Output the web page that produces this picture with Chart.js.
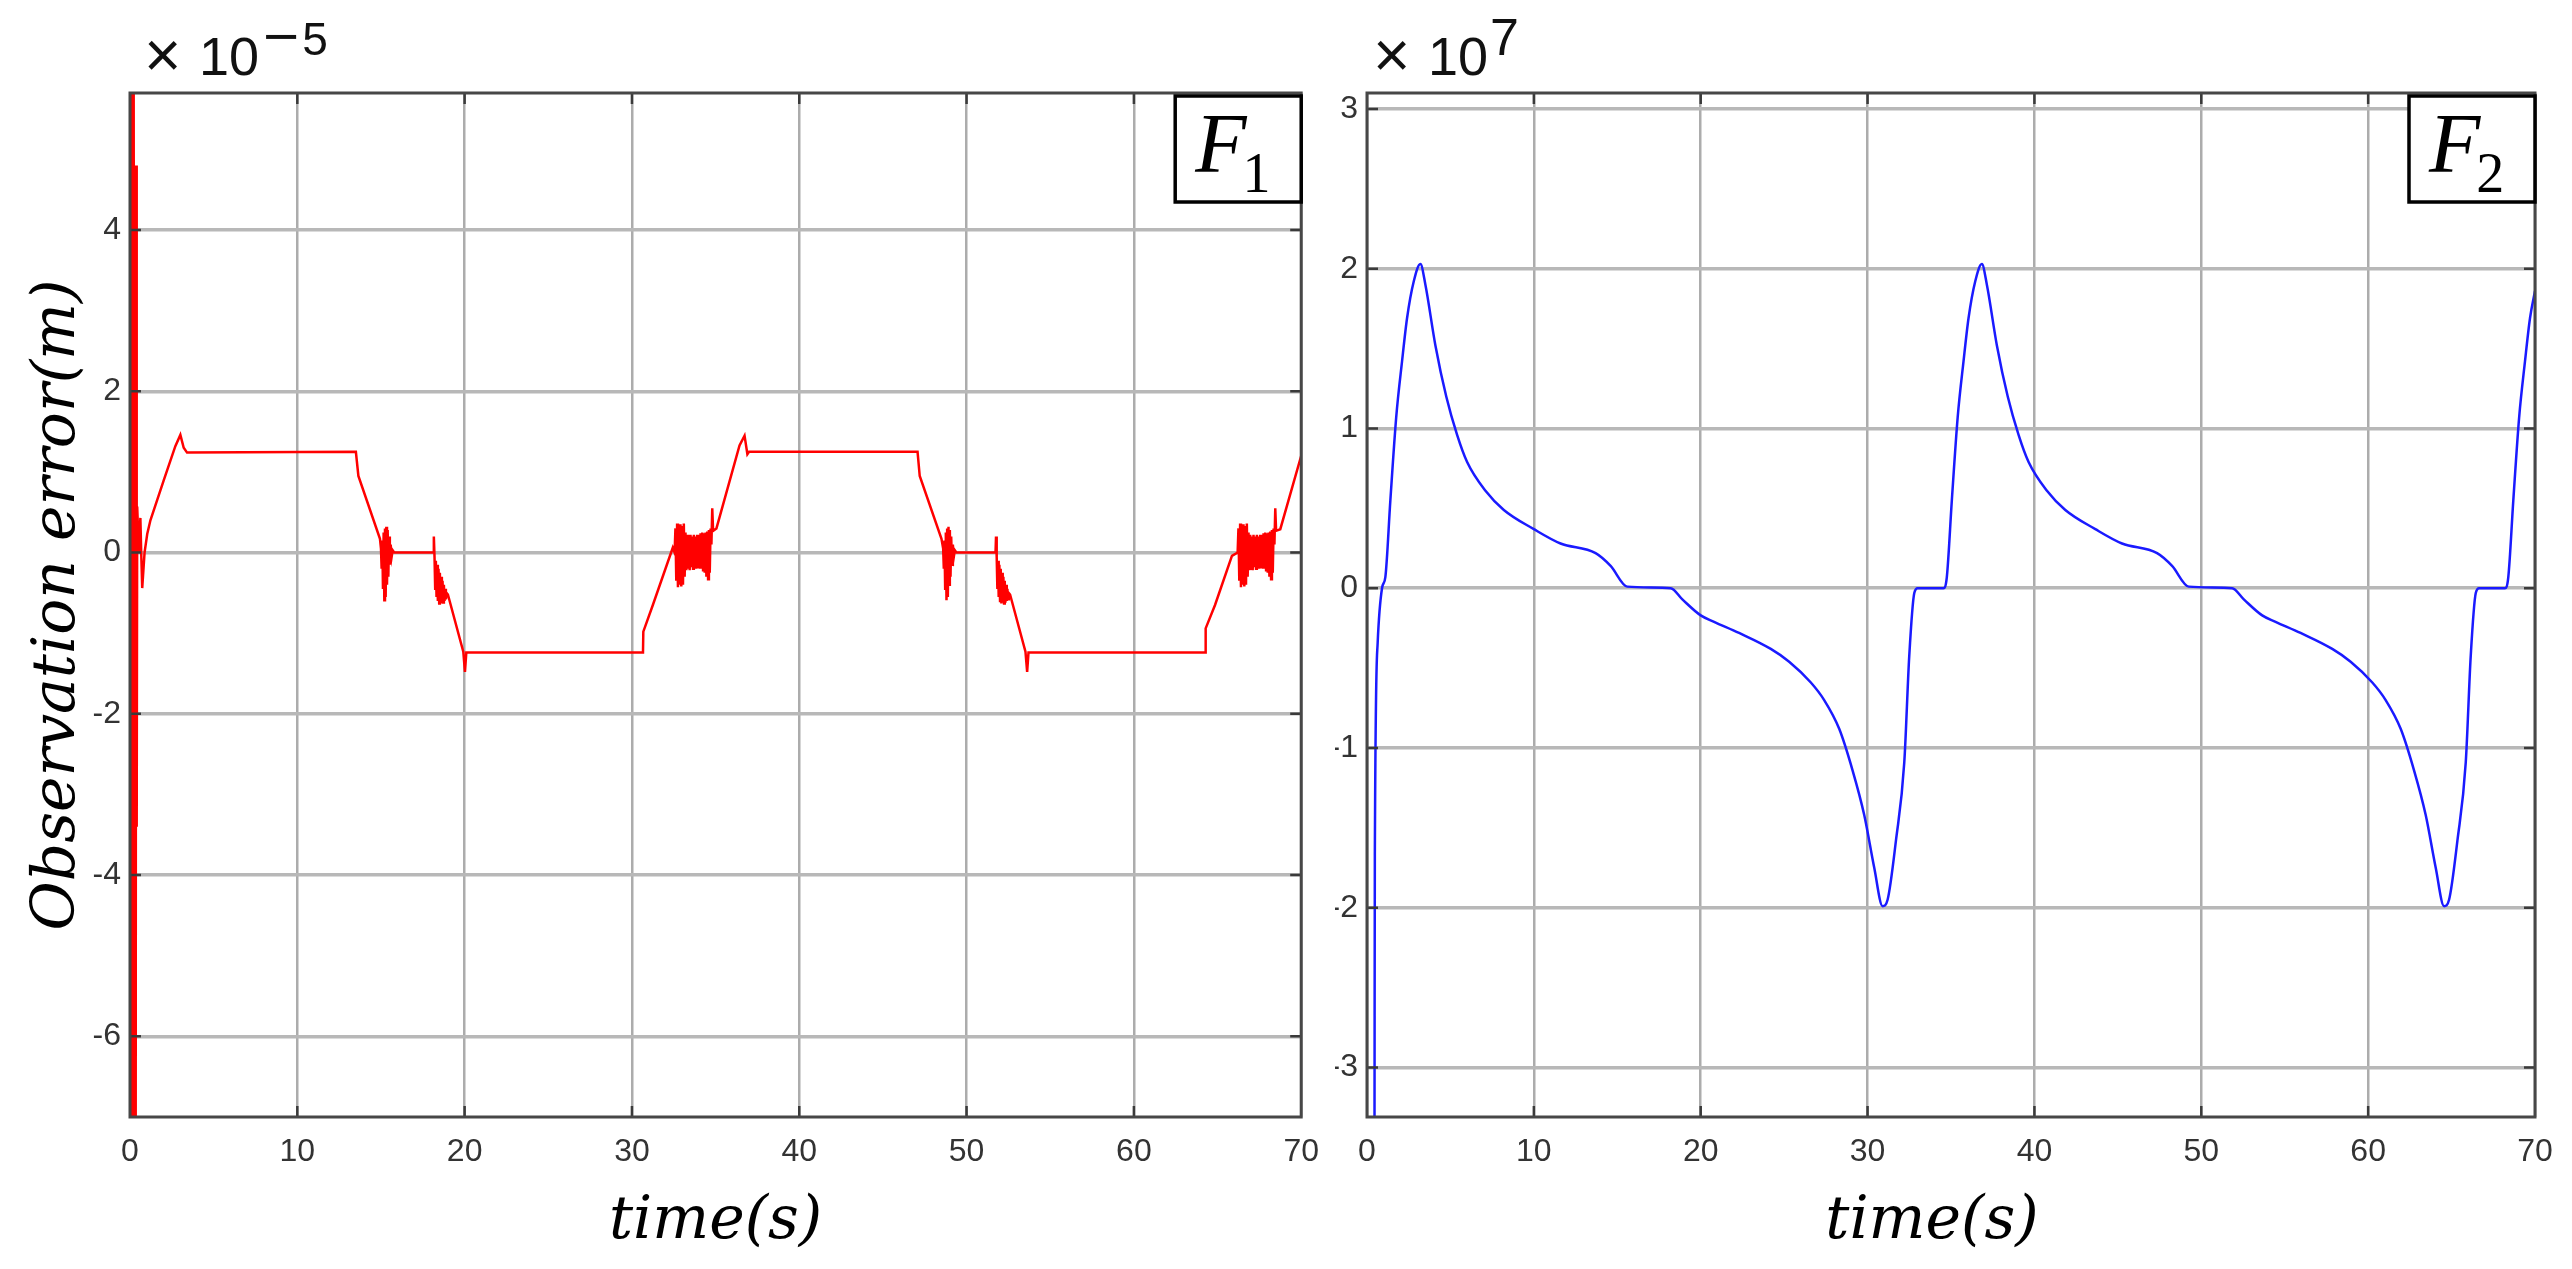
<!DOCTYPE html>
<html><head><meta charset="utf-8">
<script src="https://cdn.jsdelivr.net/npm/chart.js@4.4.1/dist/chart.umd.min.js"></script>
<style>
html,body{margin:0;padding:0;background:#fff;overflow:hidden;}
#wrap{position:relative;width:2572px;height:1269px;background:#fff;}
canvas{position:absolute;top:0;}
#c1{left:0}
#c2{left:1335px}
</style></head><body>
<div id="wrap"><canvas id="c1" width="1335" height="1269"></canvas><canvas id="c2" width="1237" height="1269"></canvas></div>
<script>
// ---- data ----
const xTicks = [0,10,20,30,40,50,60,70];
const f1Ticks = [-6,-4,-2,0,2,4];
const f2Ticks = [-3,-2,-1,0,1,2,3];
const f1Range = [-7, 5.7];     // x 10^-5
const f2Range = [-3.31, 3.1];  // x 10^7

// F1 observation error [time s, value x1e-5]
const f1Series = [
[0,0],[0.06,5.7],[0.1,-7],[0.14,5.7],[0.18,-7],[0.22,5.7],[0.26,-7],[0.3,4.8],[0.34,-7],[0.37,4.8],[0.4,-3.4],
[0.43,0.57],[0.53,0],[0.62,0.43],[0.67,0],[0.73,-0.44],[0.87,0],[1.03,0.23],[1.22,0.4],[2.02,0.9],[2.71,1.32],[3.01,1.46],[3.21,1.3],[3.41,1.24],
[13.5,1.25],[13.65,0.95],[14.94,0.17],
[15.0,0.05],[15.04,-0.2],[15.08,0.15],[15.12,-0.45],[15.16,0.25],[15.2,-0.59],[15.24,0.3],[15.28,-0.55],[15.32,0.32],[15.36,-0.4],[15.4,0.28],[15.44,-0.3],[15.48,0.2],[15.53,-0.15],[15.58,0.1],[15.64,-0.05],[15.7,0.03],[15.8,0],
[18.13,0],[18.16,0.2],[18.2,-0.05],[18.24,-0.45],[18.28,-0.1],[18.32,-0.55],[18.36,-0.15],[18.4,-0.6],[18.44,-0.2],[18.48,-0.63],[18.52,-0.25],[18.56,-0.62],[18.6,-0.3],[18.64,-0.63],[18.68,-0.35],[18.72,-0.62],[18.76,-0.4],[18.8,-0.6],[18.84,-0.45],[18.88,-0.58],[18.92,-0.5],[19.0,-0.52],
[19.92,-1.23],[20.02,-1.48],[20.1,-1.24],[30.66,-1.24],[30.68,-0.98],[31.25,-0.65],[32.44,0.06],[32.55,0],
[32.6,0.3],[32.65,-0.35],[32.7,0.36],[32.75,-0.43],[32.8,0.34],[32.85,-0.4],[32.9,0.35],[32.95,-0.42],[33.0,0.33],[33.05,-0.4],[33.1,0.36],[33.15,-0.3],[33.2,0.25],[33.25,-0.22],[33.3,0.22],[33.35,-0.2],[33.4,0.2],[33.45,-0.22],[33.5,0.22],[33.55,-0.18],[33.6,0.2],[33.65,-0.2],[33.7,0.22],[33.75,-0.18],[33.8,0.2],[33.85,-0.2],[33.9,0.22],[33.95,-0.18],[34.0,0.22],[34.05,-0.2],[34.1,0.24],[34.15,-0.2],[34.2,0.25],[34.25,-0.22],[34.3,0.24],[34.35,-0.25],[34.4,0.25],[34.45,-0.3],[34.5,0.26],[34.55,-0.33],[34.6,0.28],[34.65,-0.25],[34.7,0.3],[34.75,0.1],[34.8,0.55],[34.85,0.27],
[35.05,0.3],[36.43,1.33],[36.73,1.45],[36.9,1.22],[37.0,1.25],[47.07,1.25],[47.2,0.95],[48.5,0.17],
[48.6,0.05],[48.64,-0.2],[48.68,0.15],[48.72,-0.45],[48.76,0.25],[48.8,-0.59],[48.84,0.3],[48.88,-0.55],[48.92,0.32],[48.96,-0.4],[49.0,0.28],[49.04,-0.3],[49.08,0.2],[49.13,-0.15],[49.18,0.1],[49.24,-0.05],[49.3,0.03],[49.4,0],
[51.73,0],[51.76,0.2],[51.8,-0.05],[51.84,-0.45],[51.88,-0.1],[51.92,-0.55],[51.96,-0.15],[52.0,-0.6],[52.04,-0.2],[52.08,-0.63],[52.12,-0.25],[52.16,-0.62],[52.2,-0.3],[52.24,-0.63],[52.28,-0.35],[52.32,-0.62],[52.36,-0.4],[52.4,-0.6],[52.44,-0.45],[52.48,-0.58],[52.52,-0.5],[52.6,-0.52],
[53.52,-1.23],[53.62,-1.48],[53.7,-1.24],[64.27,-1.24],[64.29,-0.94],[64.85,-0.65],[65.86,-0.04],[66.2,0],
[66.25,0.3],[66.3,-0.35],[66.35,0.36],[66.4,-0.43],[66.45,0.34],[66.5,-0.4],[66.55,0.35],[66.6,-0.42],[66.65,0.33],[66.7,-0.4],[66.75,0.36],[66.8,-0.3],[66.85,0.25],[66.9,-0.22],[66.95,0.22],[67.0,-0.2],[67.05,0.2],[67.1,-0.22],[67.15,0.22],[67.2,-0.18],[67.25,0.2],[67.3,-0.2],[67.35,0.22],[67.4,-0.18],[67.45,0.2],[67.5,-0.2],[67.55,0.22],[67.6,-0.18],[67.65,0.22],[67.7,-0.2],[67.75,0.24],[67.8,-0.2],[67.85,0.25],[67.9,-0.22],[67.95,0.24],[68.0,-0.25],[68.05,0.25],[68.1,-0.3],[68.15,0.26],[68.2,-0.33],[68.25,0.28],[68.3,-0.25],[68.35,0.3],[68.4,0.1],[68.45,0.55],[68.5,0.27],
[68.75,0.29],[70,1.2]
];

// F2 observation error [time s, value x1e7]
const f2Series = [
[0.45,-3.31],[0.47,-1.67],[0.64,-0.34],[0.9,0],[1.1,0.07],[1.4,0.55],[1.75,1.07],[2.1,1.42],[2.4,1.69],[2.8,1.92],[3.2,2.03],
[3.5,1.9],[4.1,1.52],[4.75,1.2],[5.4,0.96],[6.0,0.79],[7.1,0.61],[8.2,0.49],[10,0.37],[11.6,0.28],[13.7,0.22],[14.6,0.14],[15.6,0.01],
[18.2,0],[18.9,-0.07],[20.0,-0.17],[20.8,-0.21],[22.3,-0.28],[24.2,-0.38],[25.3,-0.46],[26.6,-0.59],[27.4,-0.7],[28.3,-0.88],[29.1,-1.14],[29.8,-1.42],[30.4,-1.75],[30.9,-1.99],
[31.2,-1.95],[31.7,-1.58],[32.2,-1.09],[32.5,-0.42],[32.8,-0.03],[33.0,0],
[34.55,0],[34.75,0.07],[35.05,0.55],[35.4,1.07],[35.75,1.42],[36.05,1.69],[36.45,1.92],[36.85,2.03],
[37.15,1.9],[37.75,1.52],[38.4,1.2],[39.05,0.96],[39.65,0.79],[40.75,0.61],[41.85,0.49],[43.65,0.37],[45.25,0.28],[47.35,0.22],[48.25,0.14],[49.25,0.01],
[51.85,0],[52.55,-0.07],[53.65,-0.17],[54.45,-0.21],[55.95,-0.28],[57.85,-0.38],[58.95,-0.46],[60.25,-0.59],[61.05,-0.7],[61.95,-0.88],[62.75,-1.14],[63.45,-1.42],[64.05,-1.75],[64.55,-1.99],
[64.85,-1.95],[65.35,-1.58],[65.85,-1.09],[66.15,-0.42],[66.45,-0.03],[66.65,0],
[68.2,0],[68.4,0.07],[68.7,0.55],[69.05,1.07],[69.4,1.42],[69.7,1.69],[70,1.86]
];

// ---- rendering ----
const TICK_FONT = {family:'"Liberation Sans Narrow", "Liberation Sans", Arial, sans-serif', size:32};
const TITLE_FONT = {family:'"DejaVu Serif", serif', style:'italic', size:60};

function decor(o){
  return {
    id:'decor',
    afterDraw(chart){
      const {ctx, chartArea:a, scales} = chart;
      ctx.save();
      ctx.strokeStyle='#3a3a3a'; ctx.lineWidth=2.5;
      const tl=11;
      ctx.beginPath();
      scales.x.ticks.forEach(t=>{
        const px=scales.x.getPixelForValue(t.value);
        if(px<=a.left+2||px>=a.right-2) return;
        ctx.moveTo(px,a.top); ctx.lineTo(px,a.top+tl);
        ctx.moveTo(px,a.bottom); ctx.lineTo(px,a.bottom-tl);
      });
      scales.y.ticks.forEach(t=>{
        const py=scales.y.getPixelForValue(t.value);
        ctx.moveTo(a.left,py); ctx.lineTo(a.left+tl,py);
        ctx.moveTo(a.right,py); ctx.lineTo(a.right-tl,py);
      });
      ctx.stroke();
      ctx.strokeStyle='#474747'; ctx.lineWidth=3;
      ctx.strokeRect(a.left,a.top,a.right-a.left,a.bottom-a.top);
      // exponent label:  x 10^n
      ctx.fillStyle='#111'; ctx.textBaseline='alphabetic'; ctx.textAlign='left';
      const ex=a.left+o.expDx;
      ctx.font='64px "Liberation Sans", Arial, sans-serif';
      ctx.fillText('\u00d7', ex, 77);
      ctx.font='54px "Liberation Sans", Arial, sans-serif';
      ctx.fillText('10', ex+55, 75);
      let sx = ex+117;
      if (o.expNeg) {
        ctx.font='48px "DejaVu Sans", sans-serif';
        ctx.fillText('\u2212', sx, 52);
        sx += ctx.measureText('\u2212').width + 1;
      }
      ctx.font=o.expSize+'px "Liberation Sans Narrow", "Liberation Sans", Arial, sans-serif';
      ctx.fillText(o.expDigit, sx, 55);
      // F box
      const bw=126,bh=106,bx=a.right-bw,by=a.top+3;
      ctx.fillStyle='#fff'; ctx.fillRect(bx,by,bw,bh);
      ctx.strokeStyle='#000'; ctx.lineWidth=3.5; ctx.strokeRect(bx,by,bw,bh);
      ctx.fillStyle='#000';
      ctx.font='italic 84px "Liberation Serif", "DejaVu Serif", serif';
      ctx.fillText('F', bx+20, by+76);
      const fw=ctx.measureText('F').width;
      ctx.font='56px "Liberation Serif", "DejaVu Serif", serif';
      ctx.fillText(o.sub, bx+20+fw-4, by+96);
      ctx.restore();
    }
  };
}

function makeChart(id, series, color, bw, range, yTicks, yWidth, padRight, opts){
  const yScale = {
    type:'linear', min:range[0], max:range[1],
    afterBuildTicks:s=>{ s.ticks = yTicks.map(v=>({value:v})); },
    afterFit:s=>{ s.width = yWidth; },
    grid:{color:'#b8b8b8', lineWidth:3.5, drawTicks:false},
    border:{display:false},
    ticks:{padding:9, color:'#333', font:TICK_FONT, callback:v=>String(v)},
    title:{display:!!opts.yTitle, text:opts.yTitle||'', color:'#000', font:TITLE_FONT, padding:{top:22,bottom:0}}
  };
  return new Chart(document.getElementById(id), {
    type:'line',
    data:{datasets:[{
      data: series.map(p=>({x:p[0], y:p[1]})),
      borderColor:color, borderWidth:bw, pointRadius:0, fill:false,
      tension:0, cubicInterpolationMode: opts.smooth ? 'monotone' : 'default'
    }]},
    options:{
      responsive:false, animation:false, devicePixelRatio:1,
      layout:{padding:{top:93, right:padRight, left:0, bottom:0}},
      plugins:{legend:{display:false}, tooltip:{enabled:false}},
      scales:{
        x:{
          type:'linear', min:0, max:70,
          afterBuildTicks:s=>{ s.ticks = xTicks.map(v=>({value:v})); },
          afterFit:s=>{ s.height = 152; },
          grid:{color:'#acacac', lineWidth:2.5, drawTicks:false},
          border:{display:false},
          ticks:{padding:16, color:'#333', font:TICK_FONT, maxRotation:0, autoSkip:false, callback:v=>String(v)},
          title:{display:true, text:opts.xTitle, color:'#000', font:TITLE_FONT, padding:{top:0,bottom:11}}
        },
        y:yScale
      }
    },
    plugins:[decor(opts)]
  });
}

makeChart('c1', f1Series, '#ff0000', 2.5, f1Range, f1Ticks, 130, 32,
  {yTitle:'Observation error(m)', xTitle:'time(s)', expNeg:true, expDigit:'5', expSize:46, sub:'1', expDx:14, smooth:false});
makeChart('c2', f2Series, '#1a1aff', 2.5, f2Range, f2Ticks, 32, 37,
  {yTitle:'', xTitle:'time(s)\u00a0\u00a0', expNeg:false, expDigit:'7', expSize:52, sub:'2', expDx:6, smooth:true});
</script>
</body></html>
